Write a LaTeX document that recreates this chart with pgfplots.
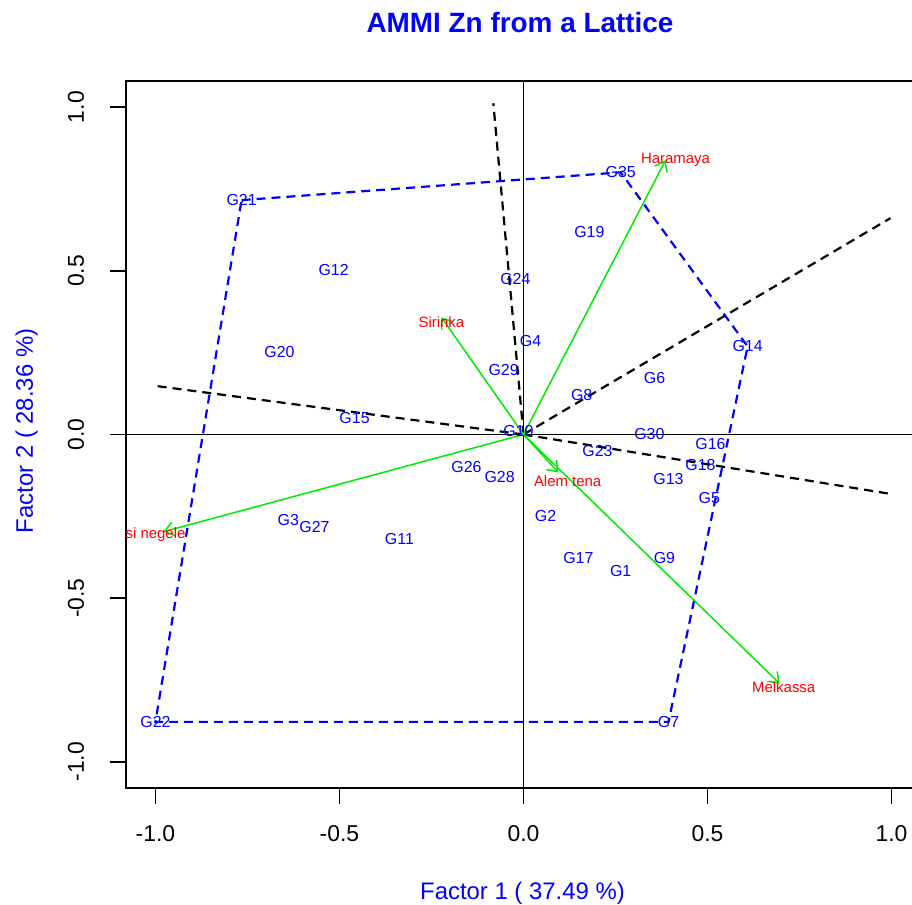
\documentclass[border=0pt]{standalone}
\usepackage{pgfplots}
\pgfplotsset{compat=1.18}
\usepackage{pgfplotstable}
\usetikzlibrary{arrows.meta}
\usepackage{fontspec}
\setmainfont{Liberation Sans}
\definecolor{rblue}{RGB}{0,0,255}
\definecolor{rred}{RGB}{255,0,0}
\definecolor{rgreen}{RGB}{0,235,0}

\pgfplotstableread{
label x y
G1 0.264 -0.416
G2 0.060 -0.248
G3 -0.639 -0.260
G4 0.019 0.287
G5 0.505 -0.193
G6 0.356 0.174
G7 0.394 -0.878
G8 0.158 0.122
G9 0.383 -0.376
G10 -0.014 0.012
G11 -0.337 -0.318
G12 -0.516 0.502
G13 0.394 -0.135
G14 0.609 0.269
G15 -0.459 0.049
G16 0.508 -0.028
G17 0.149 -0.376
G18 0.481 -0.092
G19 0.179 0.618
G20 -0.663 0.251
G21 -0.766 0.716
G22 -1.000 -0.878
G23 0.201 -0.049
G24 -0.022 0.474
G26 -0.155 -0.098
G27 -0.568 -0.284
G28 -0.065 -0.131
G29 -0.054 0.196
G30 0.342 0.003
G35 0.264 0.801
}\genos

\pgfplotstableread{
label x y
Haramaya 0.413 0.838
Sirinka -0.223 0.344
{Alem tena} 0.120 -0.142
Melkassa 0.707 -0.771
{Arsi negele} -1.020 -0.307
}\envs

\begin{document}
\begin{tikzpicture}
\useasboundingbox (-126bp,-117bp) rectangle (786bp,788bp);
\begin{axis}[
  at={(0,0)}, anchor=south west,
  scale only axis, width=795bp, height=707bp,
  xmin=-1.08, xmax=1.08, ymin=-1.08, ymax=1.08,
  xtick={-1,-0.5,0,0.5,1}, ytick={-1,-0.5,0,0.5,1},
  xticklabels={-1.0,-0.5,0.0,0.5,1.0},
  yticklabels={-1.0,-0.5,0.0,0.5,1.0},
  xtick pos=bottom, ytick pos=left,
  tick align=outside, major tick length=16bp,
  every tick/.style={black, line width=1.6bp},
  axis line style={line width=1.6bp},
  tick label style={font=\fontsize{23}{27}\selectfont},
  xticklabel style={anchor=base, yshift=-37bp},
  yticklabel style={rotate=90, anchor=base, yshift=26bp},
  title={AMMI Zn from a Lattice},
  title style={font=\bfseries\fontsize{28}{32}\selectfont, text=rblue,
    at={(axis description cs:0.4956,1.0595)}, anchor=base},
  xlabel={Factor 1 ( 37.49 \%)},
  ylabel={Factor 2 ( 28.36 \%)},
  label style={font=\fontsize{24}{28}\selectfont, text=rblue},
  xlabel style={at={(axis description cs:0.4987,-0.1584)}, anchor=base},
  ylabel style={at={(axis description cs:-0.117,0.505)}, anchor=base, rotate=0},
  clip marker paths=true,
]
% reference lines
\addplot[black, line width=1.8bp] coordinates {(-1.2,0) (1.2,0)};
\addplot[black, line width=1.8bp] coordinates {(0,-1.2) (0,1.2)};
% convex hull
\addplot[rblue, line width=2.2bp, dash pattern=on 9bp off 6bp] coordinates {
(-0.766,0.716) (0.264,0.801) (0.609,0.269) (0.394,-0.878) (-1.000,-0.878) (-0.766,0.716)};
% sector rays
\addplot[black, line width=2.2bp, dash pattern=on 9bp off 6bp] coordinates {(0,0) (-0.082,1.012)};
\addplot[black, line width=2.2bp, dash pattern=on 9bp off 6bp] coordinates {(0,0) (0.997,0.661)};
\addplot[black, line width=2.2bp, dash pattern=on 9bp off 6bp] coordinates {(0,0) (1.000,-0.182)};
\addplot[black, line width=2.2bp, dash pattern=on 9bp off 6bp] coordinates {(0,0) (-0.997,0.148)};
% environment vectors
\addplot[rgreen, line width=1.5bp, -{Straight Barb[length=9bp,width=14bp]}] coordinates {(0,0) (0.386,0.838)};
\addplot[rgreen, line width=1.5bp, -{Straight Barb[length=9bp,width=14bp]}] coordinates {(0,0) (-0.223,0.358)};
\addplot[rgreen, line width=1.5bp, -{Straight Barb[length=9bp,width=14bp]}] coordinates {(0,0) (0.095,-0.116)};
\addplot[rgreen, line width=1.5bp, -{Straight Barb[length=9bp,width=14bp]}] coordinates {(0,0) (0.696,-0.761)};
\addplot[rgreen, line width=1.5bp, -{Straight Barb[length=9bp,width=14bp]}] coordinates {(0,0) (-0.978,-0.297)};
% genotype labels
\addplot[only marks, mark=*, mark size=0pt, mark options={draw=none, fill=none},
  point meta=explicit symbolic, nodes near coords, nodes near coords align=center,
  every node near coord/.append style={anchor=center, text=rblue, font=\fontsize{16}{18}\selectfont, inner sep=0pt}]
  table[x=x, y=y, meta=label] {\genos};
% environment labels
\addplot[only marks, mark=*, mark size=0pt, mark options={draw=none, fill=none},
  point meta=explicit symbolic, nodes near coords, nodes near coords align=center,
  every node near coord/.append style={anchor=center, text=rred, font=\fontsize{15}{17}\selectfont, inner sep=0pt}]
  table[x=x, y=y, meta=label] {\envs};
\end{axis}
\end{tikzpicture}
\end{document}
